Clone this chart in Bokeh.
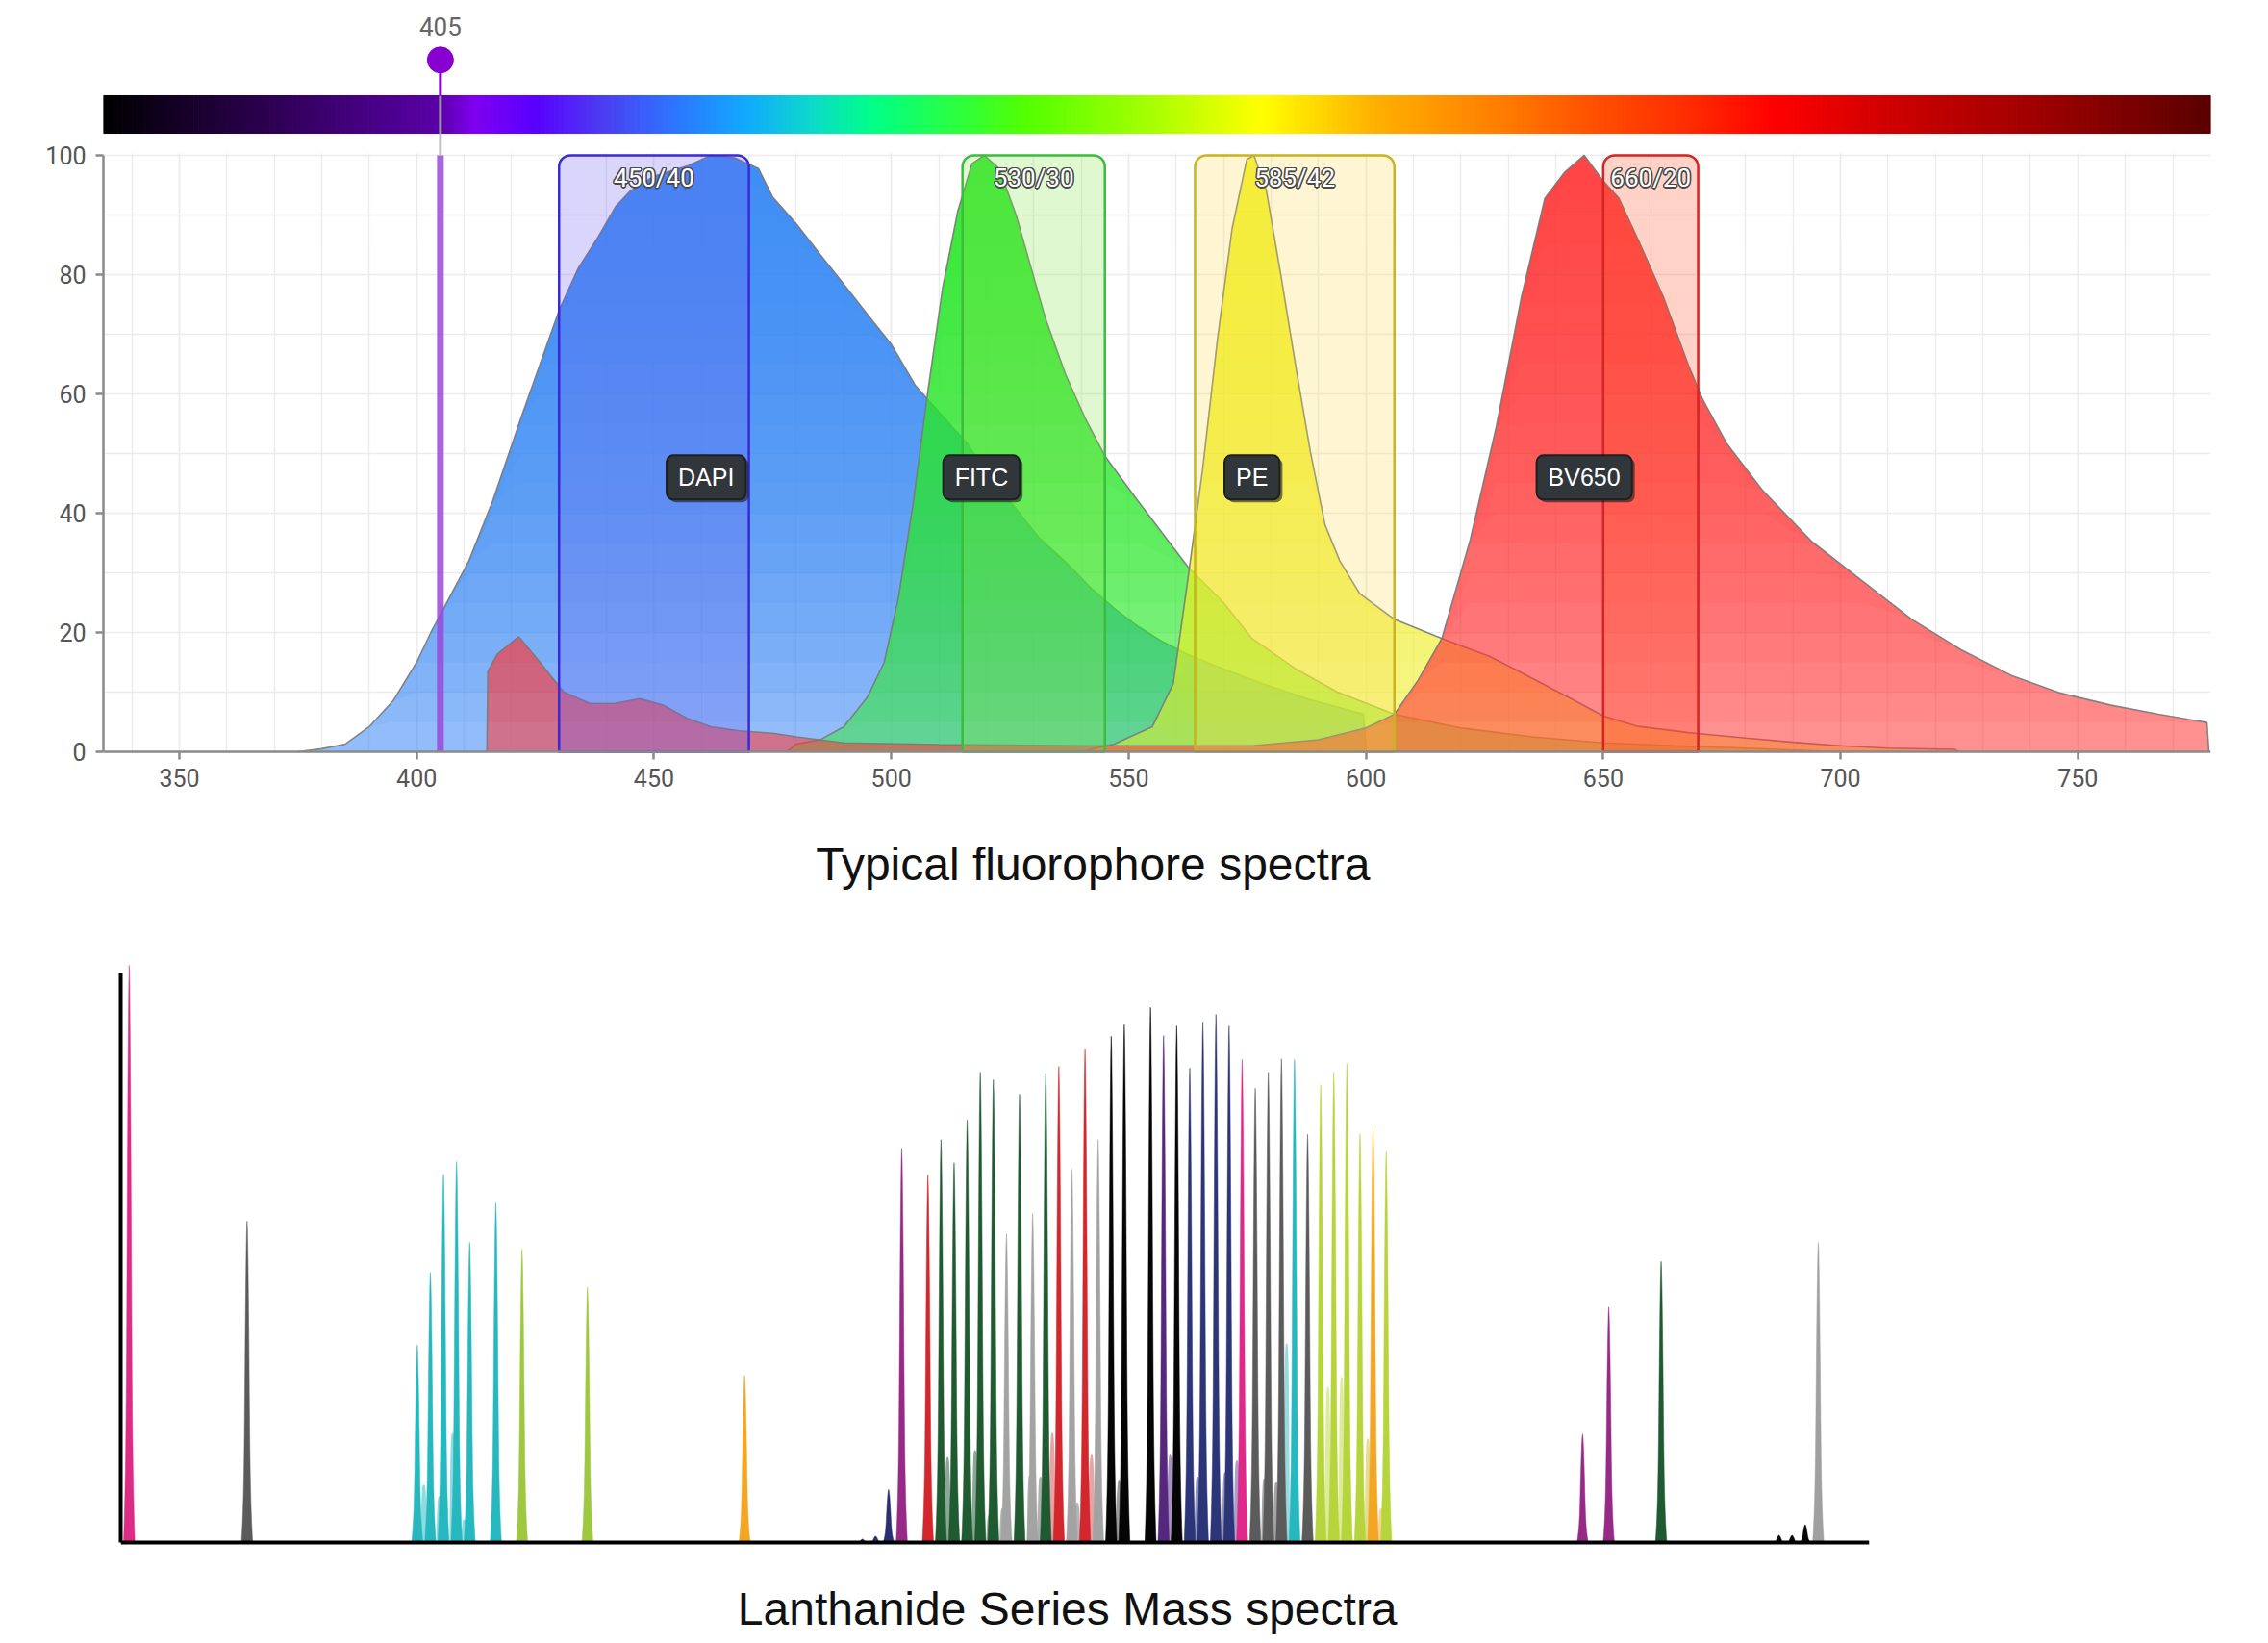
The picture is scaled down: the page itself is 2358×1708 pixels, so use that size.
import numpy as np
from bokeh.plotting import figure
from bokeh.models import Range1d, FixedTicker
from bokeh.core.properties import value
from bokeh.embed import file_html
from bokeh.resources import INLINE

# ---------------- data: fluorophore emission spectra (% of max) ----------------
DAPI_NM = [375, 380, 385, 390, 395, 400, 403, 407, 411, 416, 422, 426, 430, 434, 438, 442, 445, 450,
           457, 462, 467, 472, 475, 480, 485, 490, 495, 500, 505, 510, 516, 521, 526, 531, 537, 542,
           547, 552, 557, 562, 568, 573, 578, 588, 599.5, 600]
DAPI_VAL = [0, 0.5, 1.3, 4.2, 8.5, 15, 20, 26, 32, 42, 56, 65, 74, 81, 86, 91.5, 94, 96.5,
            98.2, 100, 99.6, 97.8, 93, 88.5, 83.4, 78.4, 73.3, 68.3, 61.5, 57, 51.7, 46, 41, 36, 31.6, 27.5,
            24, 21, 18.5, 16.5, 14.5, 13, 11.5, 8.8, 6.3, 0]

FITC_NM = [478, 480, 485, 490, 495, 498.5, 501.5, 504.6, 507.7, 510.8, 514, 517, 519.6, 522.7, 526.3,
           529.4, 532.5, 536.7, 540.8, 545, 552, 562.5, 570, 576, 585, 594, 606, 620, 635, 650, 665, 680, 700]
FITC_VAL = [0, 1.3, 2, 4.2, 9.2, 15, 25.8, 41.6, 60.4, 77.7, 90.6, 98.6, 100, 97.8, 90,
            81.3, 72.6, 63.3, 56, 49.6, 42, 31, 25, 19, 14, 10, 6.3, 4, 2.5, 1.5, 1, 0.6, 0]

PE_NM = [540, 547, 555, 559.4, 562.5, 565.6, 568.7, 571.8, 574.9, 576.4, 579, 582.1, 585.2, 588.3, 591.4,
         594.5, 598.7, 606, 616, 626, 631, 637, 643, 650, 657, 668, 680, 690, 700, 710, 724, 725]
PE_VAL = [0, 1.3, 4.2, 11.4, 29, 47.4, 69, 87.7, 99.3, 100, 94.2, 79.8, 64.7, 50.3, 38,
          32, 26.5, 22.2, 19, 16, 14, 11.5, 9, 6, 4.3, 3.2, 2.3, 1.6, 1, 0.6, 0.4, 0]

BV650_NM = [414.8, 415, 417, 421.5, 426, 431, 436.5, 441.7, 447, 452, 457, 462, 468, 475, 480, 490, 510,
            540, 576, 590, 600, 606, 611, 616, 622, 627.5, 632.7, 637.7, 641.8, 646, 650, 653.3, 657.5,
            662.7, 668, 671, 676, 683.6, 694, 704.5, 715, 725.4, 736, 746, 757, 767, 777.2, 777.6]
BV650_VAL = [0, 13.5, 16.4, 19.3, 15, 10, 8.1, 8.1, 8.9, 7.8, 5.6, 4.2, 3.5, 3.1, 2.5, 1.5, 1.2,
             1, 1, 2, 4, 6.3, 12, 19, 35.6, 54.6, 76, 92.8, 97.1, 100, 95.7, 92.8, 85.6,
             76.2, 64.7, 59, 51.7, 43.8, 35.2, 28.7, 22.2, 17.1, 12.8, 9.9, 7.8, 6.3, 4.9, 0]

FLUOR_NAMES = ["DAPI", "FITC", "PE", "BV650"]
FLUOR_PEAK_NM = [461, 519, 576, 646]
FLUOR_LABEL_Y = [46, 46, 46, 46]

FILTER_CENTER = [450, 530, 585, 660]
FILTER_WIDTH = [40, 30, 42, 20]
FILTER_LABEL = ["450/40", "530/30", "585/42", "660/20"]

LASER_NM = 405
X_TICKS = [350, 400, 450, 500, 550, 600, 650, 700, 750]
Y_TICKS = [0, 20, 40, 60, 80, 100]
TITLE_TOP = "Typical fluorophore spectra"
TITLE_BOTTOM = "Lanthanide Series Mass spectra"

# ---------------- data: lanthanide mass spectra ----------------
MASS = [80, 89, 102, 103, 104, 105, 106, 108, 110, 115, 127, 136, 137, 138, 139, 141,
        142, 143, 144, 145, 146, 147, 148, 149, 150, 151, 152, 153, 154, 155, 156, 158,
        159, 160, 161, 162, 163, 164, 165, 166, 167, 168, 169, 170, 171, 172, 173, 174,
        175, 176, 191, 193, 197, 206, 207, 208, 209]
INTENSITY = [100, 55.7, 34.2, 46.8, 63.8, 66, 52, 58.8, 50.8, 44.2, 29, 0.6, 1.1, 9.2, 68.3, 63.7,
             69.8, 65.8, 73.2, 81.5, 80.2, 53.5, 77.7, 57, 81.3, 82.5, 64.7, 85.5, 69.8, 87.7, 89.7, 92.7,
             87.8, 89.5, 82.2, 90.2, 91.5, 89.5, 83.7, 78.7, 81.5, 83.8, 83.7, 70.7, 79.3, 81.5, 83, 70.8,
             71.7, 67.7, 18.8, 40.8, 48.7, 1.25, 1.25, 3.1, 52]
PINK, GREY, CYAN, LEAF, ORANGE, NAVY = "#dd2c86", "#5b5b5b", "#27b8bf", "#9dc83f", "#f3a624", "#28306e"
PURPLE, RED, DGREEN, LGREY, BLACK = "#962a86", "#d2272d", "#1f5a31", "#a3a3a3", "#050505"
VIOLET, DNAVY, PINK2, LIME = "#55277d", "#2b3577", "#e0288a", "#b6d43b"
MASS_COLOR = [PINK, GREY, CYAN, CYAN, CYAN, CYAN, CYAN, CYAN, LEAF, LEAF, ORANGE, NAVY, NAVY, NAVY, PURPLE, RED,
              DGREEN, DGREEN, DGREEN, DGREEN, DGREEN, LGREY, DGREEN, LGREY, DGREEN, RED, LGREY, RED, LGREY,
              BLACK, BLACK, BLACK,
              VIOLET, BLACK, DNAVY, DNAVY, DNAVY, DNAVY, PINK2, GREY, GREY, GREY, CYAN, GREY, LIME, LIME, LIME, LIME,
              ORANGE, LIME, PURPLE, PURPLE, DGREEN, BLACK, BLACK, BLACK, "#a0a0a0"]

# pale overlapping shoulders between neighbouring peaks
SHOULDER_MASS = [102.5, 103.7, 104.7, 105.6, 142.5, 144.6, 145.7, 146.7, 148.8, 149.6, 150.5, 152.4, 153.5,
                 155.6, 159.5, 161.6, 163.7, 164.6, 166.7, 167.6, 168.4, 171.55, 172.6, 174.6, 175.6]
SHOULDER_H = [10, 8, 19, 4, 14.8, 16, 4.8, 5.9, 11.7, 11.4, 19, 6.9, 15.2,
              10.7, 15.2, 11.4, 12.2, 14.2, 11, 10.4, 34.5, 27, 28.7, 18, 5.9]
SHOULDER_COLOR = ["#8fdadd", "#8fdadd", "#8fdadd", "#8fdadd", "#8aa894", "#8aa894", "#9fb3a5", "#b4b4b4",
                  "#b0b0b0", "#b0b0b0", "#e8a3a6", "#b4b4b4", "#e8a3a6", "#9a9a9a", "#a892c2", "#9297c4",
                  "#9297c4", "#a9a0c8", "#a6a6a6", "#a6a6a6", "#98dadd", "#dceb9e", "#dceb9e", "#e8dc92",
                  "#f6d49a"]

# ---------------- styles ----------------
BAR_STOP_NM = [334, 368, 405, 412, 425, 440, 453, 469, 483, 496, 517, 529, 556, 578, 602, 627, 648, 670,
               686, 712, 745, 778]
BAR_STOP_COLOR = ["#000000", "#2b004f", "#5a00a8", "#7f00ee", "#5a00ff", "#4a40f0", "#3070ff", "#12a8ff",
                  "#0cd8cc", "#00ff88", "#33ff33", "#55ff00", "#aaff00", "#ffff00", "#ffb000", "#ff8000",
                  "#ff5000", "#ff2800", "#ff0000", "#cc0000", "#990000", "#5a0000"]
# colour, alpha at the bottom, alpha reached at the top
SPEC_STYLE = {"DAPI": ("#3a86f6", 0.55, 0.93), "FITC": ("#30ea30", 0.5, 0.92),
              "PE": ("#f0f020", 0.5, 0.9), "BV650": ("#ff3535", 0.55, 0.92)}
FILTER_FILL = ["#6a5af0", "#84e444", "#fcdc4c", "#ff4c24"]
FILTER_LINE = ["#3a2ad6", "#3cbc3c", "#c8b41e", "#d42424"]
BAND_LEVELS = list(range(0, 100, 5))

XMIN, XMAX = 334, 778
YTOP, YBOT = 124.35, -28.87
TICK_FONT = "Roboto"
TITLE_FONT = "Liberation Sans"


def hex_rgb(h):
    h = h.lstrip("#")
    return [int(h[i:i + 2], 16) for i in (0, 2, 4)]


# ================= top figure =================
p1 = figure(width=2358, height=960, x_range=Range1d(XMIN, XMAX), y_range=Range1d(YBOT, YTOP),
            output_backend="svg", toolbar_location=None,
            min_border_left=107, min_border_right=60, min_border_top=10, min_border_bottom=0)
p1.outline_line_color = None
p1.xaxis.ticker = FixedTicker(ticks=X_TICKS, minor_ticks=list(range(340, 780, 10)))
p1.yaxis.ticker = FixedTicker(ticks=Y_TICKS, minor_ticks=list(range(10, 100, 20)))
p1.yaxis.bounds = (0, 100)
p1.xaxis.fixed_location = 0
for ax in (p1.xaxis[0], p1.yaxis[0]):
    ax.axis_line_color = "#8a8a8a"
    ax.axis_line_width = 2.5
    ax.major_tick_line_color = "#8a8a8a"
    ax.major_tick_line_width = 2.5
    ax.major_tick_out = 8
    ax.major_tick_in = 0
    ax.minor_tick_line_color = None
    ax.major_label_text_font = TICK_FONT
    ax.major_label_text_font_size = "25px"
    ax.major_label_text_color = "#555555"
    ax.major_label_standoff = 10
for g in (p1.xgrid[0], p1.ygrid[0]):
    g.grid_line_color = "#ececec"
    g.minor_grid_line_color = "#ececec"
    g.grid_line_width = 1.5
    g.minor_grid_line_width = 1.5

# mask vertical grid lines outside the 0-100 region
p1.quad(left=[XMIN, XMIN], right=[XMAX, XMAX], bottom=[100.4, YBOT], top=[YTOP, -0.3], color="white")

# spectra (vertical gradient emulated by stacked translucent bands)
for name, nm, val in (("DAPI", DAPI_NM, DAPI_VAL), ("FITC", FITC_NM, FITC_VAL),
                      ("PE", PE_NM, PE_VAL), ("BV650", BV650_NM, BV650_VAL)):
    col, a0, atop = SPEC_STYLE[name]
    n = len(BAND_LEVELS)
    a = 1 - ((1 - atop) / (1 - a0)) ** (1.0 / (n - 1))
    v = np.array(val, dtype=float)
    for i, lev in enumerate(BAND_LEVELS):
        p1.varea(x=nm, y1=np.minimum(v, lev), y2=v, fill_color=col, fill_alpha=a0 if i == 0 else a)
    p1.line(nm, val, line_color="#7a7a7a", line_width=1.6, line_alpha=0.9)

# filter boxes
p1.quad(left=[c - w / 2 for c, w in zip(FILTER_CENTER, FILTER_WIDTH)],
        right=[c + w / 2 for c, w in zip(FILTER_CENTER, FILTER_WIDTH)],
        bottom=0, top=100, fill_color=FILTER_FILL, fill_alpha=0.25,
        line_color=FILTER_LINE, line_width=2.5, border_radius=(12, 12, 0, 0))

# colour bar
nm_bar = np.arange(XMIN, XMAX)
stops = np.array([hex_rgb(c) for c in BAR_STOP_COLOR], dtype=float)
bar_cols = []
for w in nm_bar + 0.5:
    rgb = [int(round(np.interp(w, BAR_STOP_NM, stops[:, k]))) for k in range(3)]
    bar_cols.append("#%02x%02x%02x" % tuple(rgb))
p1.quad(left=nm_bar, right=nm_bar + 1, bottom=103.7, top=110.0, fill_color=bar_cols, line_color=bar_cols,
        line_width=1)

# laser marker
p1.segment(x0=[LASER_NM], y0=[0], x1=[LASER_NM], y1=[100], line_color="#9a48d8", line_width=7, line_alpha=0.85)
p1.segment(x0=[LASER_NM], y0=[100], x1=[LASER_NM], y1=[110], line_color="#b0b0b0", line_width=3, line_alpha=0.8)
p1.segment(x0=[LASER_NM], y0=[110], x1=[LASER_NM], y1=[116], line_color="#8800d0", line_width=3)
p1.scatter(x=[LASER_NM], y=[116], size=27, color="#8800d0")
p1.text(x=[LASER_NM], y=[121.6], text=[str(LASER_NM)], text_align="center", text_baseline="middle",
        text_font=value(TICK_FONT), text_font_size="26px", text_color="#666666")

# filter labels (white with dark outline)
for dx, dy in [(-1.5, 0), (1.5, 0), (0, -1.5), (0, 1.5), (-1.2, -1.2), (1.2, 1.2), (-1.2, 1.2), (1.2, -1.2)]:
    p1.text(x=FILTER_CENTER, y=[96.2] * 4, text=FILTER_LABEL, x_offset=dx, y_offset=dy,
            text_align="center", text_baseline="middle", text_font=value(TICK_FONT),
            text_font_size="26px", text_color="#4a4a4a")
p1.text(x=FILTER_CENTER, y=[96.2] * 4, text=FILTER_LABEL, text_align="center", text_baseline="middle",
        text_font=value(TICK_FONT), text_font_size="26px", text_color="white")

# fluorophore badges
p1.text(x=FLUOR_PEAK_NM, y=FLUOR_LABEL_Y, text=FLUOR_NAMES, x_offset=3, y_offset=3,
        text_align="center", text_baseline="middle", text_font=value("Liberation Sans"),
        text_font_size="25px", text_color="#1a1a1a", background_fill_color="#1a1a1a",
        background_fill_alpha=0.6, padding=(12, 9), border_radius=7)
p1.text(x=FLUOR_PEAK_NM, y=FLUOR_LABEL_Y, text=FLUOR_NAMES,
        text_align="center", text_baseline="middle", text_font=value("Liberation Sans"),
        text_font_size="25px", text_color="white", background_fill_color="#30363a",
        border_line_color="#1c2023", border_line_width=2, padding=(12, 9), border_radius=7)

# chart title, placed in the extended frame below the axis
p1.text(x=[542.5], y=[-18.9], text=[TITLE_TOP], text_align="center", text_baseline="middle",
        text_font=value(TITLE_FONT), text_font_size="48px", text_color="#111111")

# ================= bottom figure =================
p2 = figure(width=2358, height=748, x_range=Range1d(79.35, 212.9), y_range=Range1d(-17.5, 100.5),
            output_backend="svg", toolbar_location=None,
            min_border_left=125, min_border_right=415, min_border_top=40, min_border_bottom=0)
p2.outline_line_color = None
p2.grid.visible = False
p2.xaxis.fixed_location = 0
p2.yaxis.bounds = (0, 98.7)
for ax in (p2.xaxis[0], p2.yaxis[0]):
    ax.ticker = FixedTicker(ticks=[])
    ax.axis_line_color = "black"
    ax.axis_line_width = 4
    ax.major_tick_line_color = None
    ax.minor_tick_line_color = None
    ax.major_label_text_color = None

# shoulders (flat-topped pale humps)
G = np.linspace(-1, 1, 31)
sxs, sys_ = [], []
for m, h in zip(SHOULDER_MASS, SHOULDER_H):
    sxs.append(np.concatenate([m + 0.24 * G, [m + 0.3, m - 0.3]]))
    sys_.append(np.concatenate([h * (1 - np.abs(G) ** 4), [0, 0]]))
p2.patches(sxs, sys_, fill_color=SHOULDER_COLOR, line_color=None)

# peaks
F = np.linspace(0, 1, 40)
HW = 0.25 * (1 - F) ** 0.6 + 0.18 * (1 - F) ** 8
pxs, pys = [], []
for m, inten in zip(MASS, INTENSITY):
    pxs.append(np.concatenate([m - HW, (m + HW)[::-1]]))
    pys.append(np.concatenate([F * inten, (F * inten)[::-1]]))
p2.patches(pxs, pys, fill_color=MASS_COLOR, line_color=MASS_COLOR, line_width=0.5)

p2.text(x=[151.65], y=[-11.5], text=[TITLE_BOTTOM], text_align="center", text_baseline="middle",
        text_font=value(TITLE_FONT), text_font_size="48px", text_color="#111111")

open("out.html", "w").write(file_html([p1, p2], INLINE))
